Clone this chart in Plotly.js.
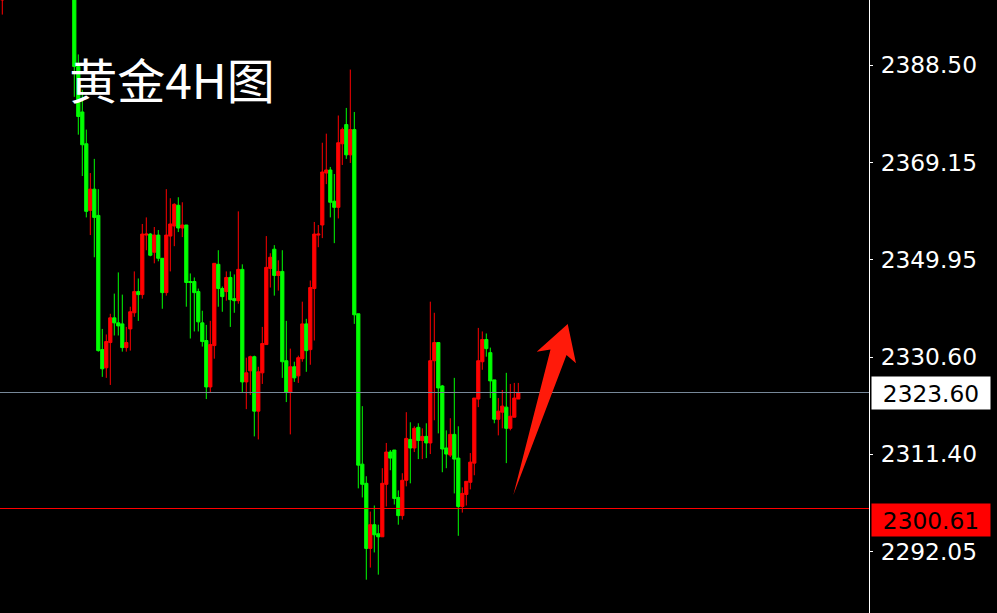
<!DOCTYPE html>
<html>
<head>
<meta charset="utf-8">
<script src="https://cdn.plot.ly/plotly-3.0.1.min.js"></script>
<style>
html,body{margin:0;padding:0;background:#000;}
#chart{width:997px;height:613px;}
</style>
</head>
<body>
<div id="chart"></div>
<script>
// Bar index (position on the time axis)
const barIndex = [0,18,19,20,21,22,23,24,25,26,27,28,29,30,31,32,33,34,35,36,37,38,39,40,41,42,43,44,45,46,47,48,49,50,51,52,53,54,55,56,57,58,59,60,61,62,63,64,65,66,67,68,69,70,71,72,73,74,75,76,77,78,79,80,81,82,83,84,85,86,87,88,89,90,91,92,93,94,95,96,97,98,99,100,101,102,103,104,105,106,107,108,109,110,111,112,113,114,115,116,117,118,119,120,121,122,123,124,125,126,127,128,129];
const openP  = [2401.4,2410.0,2388.2,2379.2,2372.9,2359.7,2363.9,2358.7,2332.1,2328.5,2333.5,2338.4,2337.4,2337.2,2332.5,2336.2,2339.4,2343.6,2343.0,2354.8,2355.0,2351.4,2354.8,2350.2,2343.4,2354.6,2356.6,2360.7,2356.2,2356.8,2345.6,2345.6,2343.6,2337.4,2333.9,2324.7,2332.9,2349.0,2344.2,2343.6,2346.4,2342.2,2341.8,2348.0,2325.7,2327.9,2330.7,2319.9,2327.5,2333.1,2348.2,2352.0,2346.8,2347.6,2329.9,2323.7,2328.7,2326.9,2330.3,2337.2,2332.1,2344.2,2354.8,2356.8,2367.1,2367.7,2361.5,2360.3,2372.9,2376.7,2370.7,2375.7,2339.2,2309.4,2305.6,2292.7,2297.4,2295.6,2295.0,2305.4,2311.8,2312.2,2302.8,2299.2,2306.2,2314.3,2312.6,2316.7,2314.1,2314.9,2313.6,2329.9,2333.5,2324.9,2312.6,2311.2,2315.3,2310.6,2301.0,2303.4,2305.8,2309.6,2322.3,2329.7,2334.1,2331.5,2326.1,2318.3,2319.7,2320.7,2316.5,2318.7,2322.3];
const highP  = [2405.0,2412.0,2390.6,2383.6,2375.7,2367.1,2369.9,2363.9,2336.2,2335.1,2339.2,2343.2,2347.4,2343.0,2336.6,2340.6,2347.6,2346.2,2357.0,2358.3,2355.2,2356.4,2355.8,2350.2,2363.9,2362.1,2361.1,2362.3,2361.3,2356.8,2347.2,2346.4,2344.2,2339.8,2337.0,2337.8,2349.2,2351.8,2344.6,2347.6,2347.6,2347.0,2359.5,2349.0,2330.5,2330.9,2330.9,2328.7,2336.6,2354.6,2351.2,2352.8,2349.8,2351.8,2337.8,2332.3,2329.7,2330.9,2341.6,2338.2,2345.8,2357.4,2356.8,2373.1,2374.9,2368.3,2366.9,2378.5,2376.1,2380.0,2387.6,2379.2,2339.2,2320.9,2307.0,2300.0,2301.2,2297.4,2308.6,2313.6,2312.2,2312.2,2304.2,2307.6,2319.7,2317.7,2316.9,2317.5,2316.5,2317.5,2341.6,2339.4,2333.5,2325.1,2316.1,2318.5,2326.5,2316.9,2304.8,2306.0,2311.6,2322.5,2336.4,2335.7,2335.3,2332.5,2326.1,2322.5,2324.1,2327.5,2325.3,2325.5,2325.5];
const lowP   = [2398.5,2382.2,2374.7,2366.5,2358.3,2354.8,2350.4,2331.7,2326.7,2326.5,2325.1,2334.9,2334.9,2331.7,2331.7,2331.9,2338.6,2337.8,2342.2,2351.8,2350.6,2349.2,2349.6,2340.2,2342.8,2347.6,2352.6,2355.4,2354.4,2340.6,2334.3,2335.7,2335.7,2332.7,2322.3,2323.7,2330.3,2340.6,2339.6,2341.8,2336.6,2339.4,2341.2,2323.7,2320.3,2323.1,2314.9,2314.3,2325.3,2333.1,2344.4,2342.8,2343.8,2326.5,2321.7,2315.3,2325.7,2325.5,2329.7,2327.7,2329.1,2333.9,2352.4,2354.2,2364.9,2358.3,2353.2,2358.1,2368.7,2369.9,2369.1,2337.2,2304.6,2302.8,2286.5,2288.9,2291.9,2287.5,2295.0,2301.0,2308.2,2301.4,2297.4,2298.4,2305.0,2305.6,2311.8,2310.4,2310.4,2310.6,2311.4,2318.1,2315.5,2307.8,2308.6,2310.8,2303.6,2295.2,2299.8,2301.2,2304.4,2307.2,2320.7,2328.1,2330.7,2322.5,2317.5,2315.1,2316.5,2309.6,2316.1,2318.7,2322.3];
const closeP = [2404.0,2388.2,2378.3,2372.7,2359.5,2363.9,2358.3,2331.9,2328.3,2333.7,2338.4,2337.4,2336.8,2332.5,2333.5,2339.6,2343.6,2343.0,2355.0,2355.0,2350.8,2354.8,2350.2,2343.4,2354.8,2357.0,2360.9,2356.2,2356.8,2345.4,2345.4,2343.4,2337.6,2333.7,2324.7,2333.1,2349.2,2344.2,2342.6,2346.4,2342.0,2341.8,2348.0,2325.7,2327.5,2330.7,2319.9,2327.7,2333.3,2348.4,2350.4,2346.8,2347.6,2329.7,2323.7,2328.7,2326.5,2330.5,2337.2,2331.9,2344.4,2355.0,2355.0,2367.3,2367.7,2361.3,2360.3,2373.1,2375.7,2370.7,2375.7,2339.0,2309.2,2305.4,2292.7,2297.4,2295.4,2295.0,2305.6,2311.8,2310.6,2302.6,2299.2,2306.2,2314.5,2312.6,2316.5,2314.1,2314.9,2313.6,2329.9,2333.5,2324.5,2312.4,2311.4,2315.3,2310.4,2301.0,2303.6,2306.0,2309.8,2322.5,2329.9,2334.1,2332.3,2325.9,2318.3,2319.9,2320.9,2316.5,2318.9,2322.5,2323.6];

// Axis ticks
const tickValues = [2388.50, 2369.15, 2349.95, 2330.60, 2311.40, 2292.05];
const tickLabels = ["2388.50", "2369.15", "2349.95", "2330.60", "2311.40", "2292.05"];

// Reference levels
const currentPrice = 2323.60;
const supportLevel = 2300.61;
const chartTitle = "黄金4H图";

// Arrow outline (pixels in the plot area)
const PW = 869, PH = 613;
const arrowPx = [[513.3,495],[550.5,349.5],[536.7,351.7],[567.7,324],[576,363.3],[566.5,355]];
const arrowPath = arrowPx.map((p,i)=> (i===0?'M':'L') + (p[0]/PW).toFixed(4) + ',' + (1-p[1]/PH).toFixed(4)).join(' ') + ' Z';

const trace = {
  type: 'candlestick',
  x: barIndex,
  open: openP, high: highP, low: lowP, close: closeP,
  increasing: {line: {color: '#ff0000', width: 1}, fillcolor: '#ff0000'},
  decreasing: {line: {color: '#00ff00', width: 1}, fillcolor: '#00ff00'},
  whiskerwidth: 0,
  hoverinfo: 'skip'
};

const layout = {
  width: 997, height: 613,
  margin: {l: 0, r: 128, t: 0, b: 0, pad: 0},
  paper_bgcolor: '#000000',
  plot_bgcolor: '#000000',
  showlegend: false,
  boxgap: 0.2,
  boxgroupgap: 0,
  title: {
    text: chartTitle,
    x: 172/997, y: 1 - 82/613, xref: 'container', yref: 'container',
    xanchor: 'center', yanchor: 'middle',
    font: {family: 'Noto Sans CJK SC', size: 48, color: '#ffffff'}
  },
  xaxis: {
    range: [-0.575, 216.675],
    visible: false,
    rangeslider: {visible: false},
    fixedrange: true
  },
  yaxis: {
    side: 'right',
    range: [2279.90, 2401.39],
    tickvals: tickValues,
    ticktext: tickLabels,
    showgrid: false,
    zeroline: false,
    showline: true,
    linecolor: '#ffffff',
    linewidth: 1,
    ticks: 'outside',
    ticklen: 3,
    tickcolor: '#ffffff',
    tickwidth: 1,
    ticklabelstandoff: 3,
    tickfont: {family: 'DejaVu Sans', size: 23.3, color: '#ffffff'},
    fixedrange: true
  },
  shapes: [
    {type: 'line', xref: 'paper', yref: 'y', x0: 0, x1: 1, y0: currentPrice, y1: currentPrice,
     line: {color: '#778899', width: 1}, layer: 'above'},
    {type: 'line', xref: 'paper', yref: 'y', x0: 0, x1: 1, y0: supportLevel, y1: supportLevel,
     line: {color: '#ff0000', width: 1}, layer: 'above'},
    {type: 'path', xref: 'paper', yref: 'paper', path: arrowPath,
     fillcolor: '#ff1a0a', line: {width: 0}, layer: 'above'}
  ],
  annotations: [
    {xref: 'paper', yref: 'y', x: 1, y: currentPrice, xanchor: 'left', yanchor: 'middle',
     xshift: 2, showarrow: false, text: currentPrice.toFixed(2), width: 118, height: 32,
     align: 'center', valign: 'middle', bgcolor: '#ffffff', borderpad: 0,
     font: {family: 'DejaVu Sans', size: 23.3, color: '#000000'}},
    {xref: 'paper', yref: 'y', x: 1, y: supportLevel, xanchor: 'left', yanchor: 'middle',
     xshift: 2, yshift: -11, showarrow: false, text: supportLevel.toFixed(2), width: 118, height: 32,
     align: 'center', valign: 'middle', bgcolor: '#ff0000', borderpad: 0,
     font: {family: 'DejaVu Sans', size: 23.3, color: '#000000'}}
  ]
};

Plotly.newPlot('chart', [trace], layout, {staticPlot: true, displayModeBar: false});
</script>
</body>
</html>
